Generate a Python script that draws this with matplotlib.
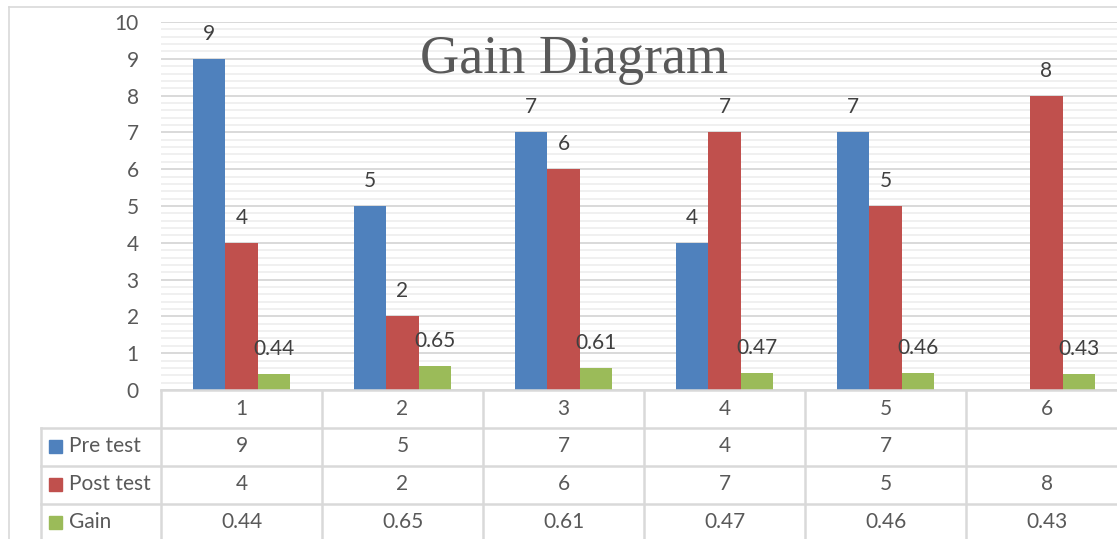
import numpy as np
import matplotlib
matplotlib.use("Agg")
import matplotlib.pyplot as plt
from matplotlib.lines import Line2D
from matplotlib.patches import Rectangle

categories = ["1", "2", "3", "4", "5", "6"]
pre_test = [9, 5, 7, 4, 7, None]
post_test = [4, 2, 6, 7, 5, 8]
gain = [0.44, 0.65, 0.61, 0.47, 0.46, 0.43]
gain_labels = ["0.44", "0.65", "0.61", "0.47", "0.46", "0.43"]
series_names = ["Pre test", "Post test", "Gain"]
y_ticks = [0, 1, 2, 3, 4, 5, 6, 7, 8, 9, 10]

colors = ["#4F81BD", "#C0504D", "#9BBB59"]
text_dark = "#404040"
tick_col = "#595959"
grid_major = "#D9D9D9"
grid_minor = "#F0F0F0"
font = ["Lato", "DejaVu Sans"]
fs = 15

W, H = 1117, 539
fig = plt.figure(figsize=(W / 100, H / 100), dpi=100)
fig.patch.set_facecolor("white")


def px_rect(x0, y0, x1, y1):
    """Axes rectangle from pixel coordinates (origin top-left)."""
    return [x0 / W, 1 - y1 / H, (x1 - x0) / W, (y1 - y0) / H]


# chart border
fig.add_artist(Line2D([9 / W, 9 / W], [0, 1 - 7 / H], transform=fig.transFigure,
                      color=grid_major, lw=1.2))
fig.add_artist(Line2D([9 / W, 1], [1 - 7 / H, 1 - 7 / H], transform=fig.transFigure,
                      color=grid_major, lw=1.2))

# ---- plot area ----
x_left, x_right = 161, 1127
y_top, y_bot = 22, 390
ax = fig.add_axes(px_rect(x_left, y_top, x_right, y_bot))
ax.set_xlim(0.5, 6.5)
ax.set_ylim(0, 10)
ax.set_facecolor("none")
for s in ax.spines.values():
    s.set_visible(False)
ax.set_xticks([])
ax.set_yticks(y_ticks)
ax.set_yticklabels([str(t) for t in y_ticks], fontsize=fs, color=tick_col,
                   family=font)
ax.tick_params(axis="y", length=0, pad=16)
ax.set_yticks(np.arange(0, 10.01, 0.2), minor=True)
ax.tick_params(axis="y", which="minor", length=0)
ax.grid(axis="y", which="minor", color=grid_minor, lw=1.4, zorder=0)
ax.grid(axis="y", which="major", color=grid_major, lw=1.4, zorder=0)
ax.set_axisbelow(True)

x = np.arange(1, len(categories) + 1)
bw = 0.2
series = [pre_test, post_test, gain]
for i, (vals, col) in enumerate(zip(series, colors)):
    xs = x + (i - 1) * bw
    v = np.array([np.nan if a is None else a for a in vals], dtype=float)
    ax.bar(xs, np.nan_to_num(v), width=bw, color=col, zorder=3,
           edgecolor="none")
    for xi, vi, j in zip(xs, v, range(len(v))):
        if np.isnan(vi):
            continue
        lab = gain_labels[j] if i == 2 else f"{vi:g}"
        ax.annotate(lab, (xi, vi), xytext=(0, 18), textcoords="offset points",
                    ha="center", va="center", fontsize=fs, color=text_dark,
                    family=font, zorder=4)

ax.text(0.5 + (574 - x_left) / 161, 10 - (60 - y_top) / 36.8, "Gain Diagram",
        ha="center", va="center", fontsize=39, color=tick_col,
        family=["Liberation Serif", "DejaVu Serif"], zorder=5)

# ---- data table ----
tab_left = 41
tab_bottom = 541
tax = fig.add_axes(px_rect(tab_left, y_bot, x_right, tab_bottom))
unit = 161.0
tax.set_xlim(0.5 - (x_left - tab_left) / unit, 6.5)
tax.set_ylim(tab_bottom, y_bot)
tax.axis("off")
tax.set_facecolor("none")

row_edges = [390, 427.5, 465.5, 503.5, 541]
lc = grid_major
lw = 1.8
xmin = tax.get_xlim()[0]
# baseline of plot
tax.plot([0.5, 6.5], [390, 390], color=lc, lw=lw, clip_on=False)
for yy in row_edges[1:-1]:
    tax.plot([xmin, 6.5], [yy, yy], color=lc, lw=lw, clip_on=False)
# vertical lines
for k in range(len(categories) + 1):
    xv = 0.5 + k
    tax.plot([xv, xv], [390, tab_bottom], color=lc, lw=lw, clip_on=False)
tax.plot([xmin, xmin], [row_edges[1], tab_bottom], color=lc, lw=lw,
         clip_on=False)

# category header row
cy = (row_edges[0] + row_edges[1]) / 2
for xi, c in zip(x, categories):
    tax.text(xi, cy, c, ha="center", va="center", fontsize=fs,
             color=tick_col, family=font)

# series rows with legend keys
for r, (name, vals, col) in enumerate(zip(series_names, series, colors)):
    ry = (row_edges[r + 1] + row_edges[r + 2]) / 2
    key_x = xmin + (49 - tab_left) / unit
    key_w = 13 / unit
    tax.add_patch(Rectangle((key_x, ry - 6.5), key_w, 13, color=col,
                            clip_on=False))
    tax.text(xmin + (69 - tab_left) / unit, ry, name, ha="left", va="center",
             fontsize=fs, color=tick_col, family=font)
    for j, (xi, v) in enumerate(zip(x, vals)):
        if v is None:
            continue
        lab = gain_labels[j] if r == 2 else f"{v:g}"
        tax.text(xi, ry, lab, ha="center", va="center", fontsize=fs,
                 color=tick_col, family=font)

fig.savefig("out.png", dpi=100)
